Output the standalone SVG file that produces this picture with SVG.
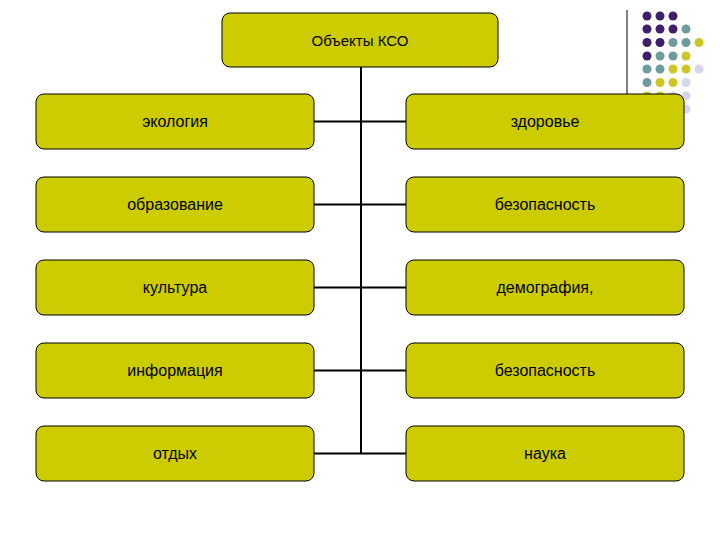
<svg xmlns="http://www.w3.org/2000/svg" width="720" height="540" viewBox="0 0 720 540">
<style>
.box{fill:#CCCC00;stroke:#000;stroke-width:1}
.t{font-family:"Liberation Sans",Arial,sans-serif;font-size:16px;fill:#000;text-anchor:middle;dominant-baseline:central}
.c{stroke:#000;stroke-width:2;fill:none}
.p{fill:#3F1E6B}.g{fill:#6E9C9E}.y{fill:#CCC626}.l{fill:#D6D6EC}
</style>
<rect width="720" height="540" fill="#fff"/>
<g id="decor">
<line x1="627" y1="10" x2="627" y2="94" stroke="#000" stroke-width="1"/>
<circle class="p" cx="647" cy="16" r="4.5"/><circle class="p" cx="660" cy="16" r="4.5"/><circle class="p" cx="673" cy="16" r="4.5"/>
<circle class="p" cx="647" cy="29" r="4.5"/><circle class="p" cx="660" cy="29" r="4.5"/><circle class="p" cx="673" cy="29" r="4.5"/><circle class="g" cx="686" cy="29" r="4.5"/>
<circle class="p" cx="647" cy="42.5" r="4.5"/><circle class="p" cx="660" cy="42.5" r="4.5"/><circle class="g" cx="673" cy="42.5" r="4.5"/><circle class="g" cx="686" cy="42.5" r="4.5"/><circle class="y" cx="699" cy="42.5" r="4.5"/>
<circle class="p" cx="647" cy="56" r="4.5"/><circle class="g" cx="660" cy="56" r="4.5"/><circle class="g" cx="673" cy="56" r="4.5"/><circle class="y" cx="686" cy="56" r="4.5"/>
<circle class="g" cx="647" cy="69" r="4.5"/><circle class="g" cx="660" cy="69" r="4.5"/><circle class="y" cx="673" cy="69" r="4.5"/><circle class="y" cx="686" cy="69" r="4.5"/><circle class="l" cx="699" cy="69" r="4.5"/>
<circle class="g" cx="647" cy="82.5" r="4.5"/><circle class="y" cx="660" cy="82.5" r="4.5"/><circle class="y" cx="673" cy="82.5" r="4.5"/><circle class="l" cx="686" cy="82.5" r="4.5"/>
<circle class="y" cx="647" cy="96" r="4.5"/><circle class="y" cx="660" cy="96" r="4.5"/><circle class="l" cx="673" cy="96" r="4.5"/><circle class="l" cx="686" cy="96" r="4.5"/>
<circle class="l" cx="686" cy="109" r="4.5"/>
</g>
<g id="connectors">
<line class="c" x1="361" y1="67" x2="361" y2="453"/>
<line class="c" x1="314" y1="121.5" x2="406" y2="121.5"/>
<line class="c" x1="314" y1="204.5" x2="406" y2="204.5"/>
<line class="c" x1="314" y1="287.5" x2="406" y2="287.5"/>
<line class="c" x1="314" y1="370.5" x2="406" y2="370.5"/>
<line class="c" x1="314" y1="453.5" x2="406" y2="453.5"/>
</g>
<g id="root"><rect class="box" x="222" y="13" width="276" height="54" rx="8"/><text class="t" x="360" y="40" style="font-size:15px">Объекты КСО</text></g>
<g id="n1"><rect class="box" x="36" y="94" width="278" height="55" rx="8"/><text class="t" x="175" y="121.5">экология</text></g>
<g id="n2"><rect class="box" x="406" y="94" width="278" height="55" rx="8"/><text class="t" x="545" y="121.5">здоровье</text></g>
<g id="n3"><rect class="box" x="36" y="177" width="278" height="55" rx="8"/><text class="t" x="175" y="204.5">образование</text></g>
<g id="n4"><rect class="box" x="406" y="177" width="278" height="55" rx="8"/><text class="t" x="545" y="204.5">безопасность</text></g>
<g id="n5"><rect class="box" x="36" y="260" width="278" height="55" rx="8"/><text class="t" x="175" y="287.5">культура</text></g>
<g id="n6"><rect class="box" x="406" y="260" width="278" height="55" rx="8"/><text class="t" x="545" y="287.5">демография,</text></g>
<g id="n7"><rect class="box" x="36" y="343" width="278" height="55" rx="8"/><text class="t" x="175" y="370.5">информация</text></g>
<g id="n8"><rect class="box" x="406" y="343" width="278" height="55" rx="8"/><text class="t" x="545" y="370.5">безопасность</text></g>
<g id="n9"><rect class="box" x="36" y="426" width="278" height="55" rx="8"/><text class="t" x="175" y="453.5">отдых</text></g>
<g id="n10"><rect class="box" x="406" y="426" width="278" height="55" rx="8"/><text class="t" x="545" y="453.5">наука</text></g>
</svg>
